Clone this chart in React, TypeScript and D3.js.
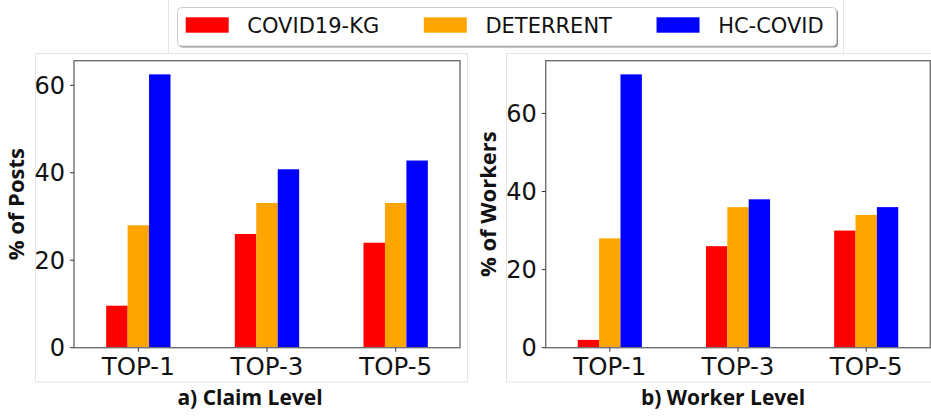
import { useEffect, useRef } from 'react';
import * as d3 from 'd3';

// data
const categories = ['TOP-1', 'TOP-3', 'TOP-5'];
const seriesNames = ['COVID19-KG', 'DETERRENT', 'HC-COVID'];
const seriesColors = ['#ff0000', '#ffa500', '#0000ff'];

const claimCovidKg = [9.6, 26, 24];
const claimDeterrent = [28, 33.1, 33.1];
const claimHcCovid = [62.5, 40.8, 42.8];

const workerCovidKg = [2, 26, 30];
const workerDeterrent = [28, 36, 34];
const workerHcCovid = [70, 38, 36];

const yTicks = [0, 20, 40, 60];

const W = 931;
const H = 416;
const GRID = '#e4e4e4';

function drawPanel(svg, opts) {
  const { x0, x1, y0, y1, series, yLabel, yLabelX, title, titleX } = opts;

  const maxV = d3.max(series.flat());
  const y = d3.scaleLinear().domain([0, maxV * 1.05]).range([y1, y0]);
  const x = d3.scaleBand().domain(categories).range([x0, x1]).paddingInner(0.5).paddingOuter(0.25);
  const xs = d3.scaleBand().domain(seriesNames).range([0, x.bandwidth()]);

  const g = svg.append('g');

  seriesNames.forEach((name, si) => {
    g.selectAll(null)
      .data(series[si])
      .enter()
      .append('rect')
      .attr('x', (d, i) => x(categories[i]) + xs(name))
      .attr('y', (d) => y(d))
      .attr('width', xs.bandwidth())
      .attr('height', (d) => y(0) - y(d))
      .attr('fill', seriesColors[si]);
  });

  // frame
  g.append('rect')
    .attr('x', x0)
    .attr('y', y0)
    .attr('width', x1 - x0)
    .attr('height', y1 - y0)
    .attr('fill', 'none')
    .attr('stroke', '#707070')
    .attr('stroke-width', 1.4);

  // y ticks
  yTicks.forEach((t) => {
    g.append('line')
      .attr('x1', x0 - 4).attr('x2', x0)
      .attr('y1', y(t)).attr('y2', y(t))
      .attr('stroke', '#333').attr('stroke-width', 1);
    g.append('text')
      .attr('x', x0 - 9)
      .attr('y', y(t))
      .attr('dy', '0.36em')
      .attr('text-anchor', 'end')
      .style('font-family', 'DejaVu Sans')
      .style('font-size', '24px')
      .attr('fill', '#111')
      .text(t);
  });

  // x ticks
  categories.forEach((c) => {
    const cx = x(c) + x.bandwidth() / 2;
    g.append('line')
      .attr('x1', cx).attr('x2', cx)
      .attr('y1', y1).attr('y2', y1 + 4)
      .attr('stroke', '#333').attr('stroke-width', 1);
    g.append('text')
      .attr('x', cx)
      .attr('y', y1 + 27)
      .attr('text-anchor', 'middle')
      .style('font-family', 'DejaVu Sans')
      .style('font-size', '24.5px')
      .attr('fill', '#111')
      .text(c);
  });

  g.append('text')
    .attr('transform', `translate(${yLabelX},${(y0 + y1) / 2}) rotate(-90)`)
    .attr('text-anchor', 'middle')
    .attr('dy', '0.35em')
    .style('font-family', 'Open Sans')
    .style('font-weight', 'bold')
    .style('font-size', '22px')
    .attr('fill', '#111')
    .text(yLabel);

  g.append('text')
    .attr('x', titleX)
    .attr('y', 405)
    .attr('text-anchor', 'middle')
    .style('font-family', 'Open Sans')
    .style('font-weight', 'bold')
    .style('font-size', '21px')
    .attr('fill', '#111')
    .text(title);
}

const App = () => {
  const ref = useRef(null);

  useEffect(() => {
    const svg = d3.select(ref.current);
    svg.selectAll('*').remove();

    // faint borders of the pasted sub-figures
    const borders = svg.append('g').attr('fill', 'none').attr('stroke', GRID).attr('stroke-width', 1);
    borders.append('rect').attr('x', 35.5).attr('y', 53.5).attr('width', 432).attr('height', 328.5);
    borders.append('rect').attr('x', 506.5).attr('y', 53.5).attr('width', 430).attr('height', 328.5);
    borders.append('line').attr('x1', 168.5).attr('x2', 168.5).attr('y1', 0).attr('y2', 53.5);
    borders.append('line').attr('x1', 843.5).attr('x2', 843.5).attr('y1', 0).attr('y2', 53.5);

    drawPanel(svg, {
      x0: 74, x1: 460, y0: 60.7, y1: 347.7,
      series: [claimCovidKg, claimDeterrent, claimHcCovid],
      yLabel: '% of Posts', yLabelX: 16,
      title: 'a) Claim Level', titleX: 250,
    });

    drawPanel(svg, {
      x0: 545.7, x1: 930.3, y0: 60.7, y1: 347.7,
      series: [workerCovidKg, workerDeterrent, workerHcCovid],
      yLabel: '% of Workers', yLabelX: 488,
      title: 'b) Worker Level', titleX: 723,
    });

    // legend
    const lg = svg.append('g');
    const boxX = 177.5;
    const boxY = 7.5;
    const boxW = 659;
    const boxH = 38.5;
    lg.append('rect')
      .attr('x', boxX + 1.5).attr('y', boxY + 1.5)
      .attr('width', boxW).attr('height', boxH)
      .attr('rx', 4)
      .attr('fill', '#8c8c8c');
    lg.append('rect')
      .attr('x', boxX).attr('y', boxY)
      .attr('width', boxW).attr('height', boxH)
      .attr('rx', 4)
      .attr('fill', '#fff')
      .attr('stroke', '#cccccc');

    let cx = 185.7;
    seriesNames.forEach((name, i) => {
      lg.append('rect')
        .attr('x', cx).attr('y', 17.3)
        .attr('width', 43).attr('height', 15.4)
        .attr('fill', seriesColors[i]);
      const t = lg.append('text')
        .attr('x', cx + 61.6)
        .attr('y', 32.5)
        .style('font-family', 'DejaVu Sans')
        .style('font-size', '21px')
        .attr('fill', '#111')
        .text(name);
      const tw = t.node().getComputedTextLength();
      cx = cx + 61.6 + tw + 44.6;
    });
  }, []);

  return (
    <svg
      ref={ref}
      width={W}
      height={H}
      style={{ position: 'absolute', left: 0, top: 0, background: '#fff' }}
    />
  );
};

export default App;
